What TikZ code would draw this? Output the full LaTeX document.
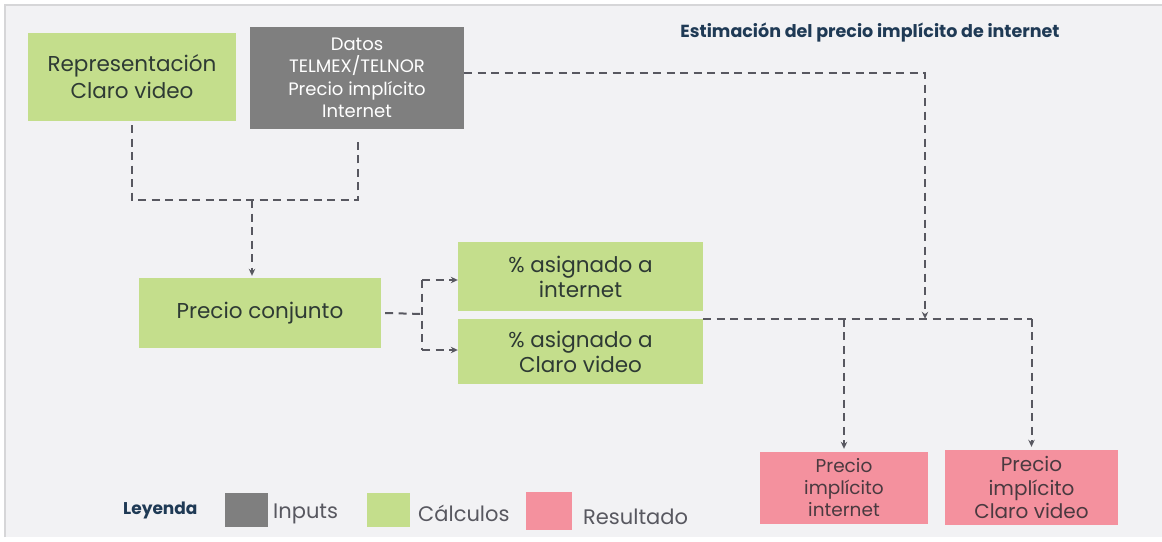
\documentclass[tikz,border=0pt]{standalone}
\usepackage{fontspec}
\setmainfont{Poppins}
\usetikzlibrary{arrows.meta,calc}
\definecolor{bgc}{HTML}{F2F2F4}
\definecolor{framec}{HTML}{D6D6D8}
\definecolor{calcc}{HTML}{C4DE8C}
\definecolor{inpc}{HTML}{7F7F7F}
\definecolor{resc}{HTML}{F4919E}
\definecolor{linec}{HTML}{585860}
\definecolor{txtc}{HTML}{2E3A34}
\definecolor{navy}{HTML}{1F3A55}
\definecolor{restxt}{HTML}{4A3A40}
\tikzset{
  box/.style={inner sep=0pt, align=center},
  calcbox/.style={box, fill=calcc, text=txtc},
  inbox/.style={box, fill=inpc, text=white},
  resbox/.style={box, fill=resc, text=restxt},
  conn/.style={draw=linec, line width=2pt, dash pattern=on 8pt off 5.5pt},
  arr/.style={conn, -{Stealth[length=7pt,width=6.5pt]}},
  legsq/.style={inner sep=0pt, minimum width=43pt, minimum height=34pt},
  legtxt/.style={anchor=west, text=linec, inner sep=0pt, font=\fontsize{21}{24}\selectfont}
}
\begin{document}
\begin{tikzpicture}[x=1pt,y=-1pt]
\useasboundingbox (0,0) rectangle (1162,541);
\fill[white] (0,0) rectangle (1162,541);
\fill[bgc] (5,5) rectangle (1162,537);
\draw[framec, line width=1.5pt] (5,537) -- (5,5) -- (1162,5);

% title
\node[text=navy, inner sep=0pt, font=\bfseries\fontsize{17.5}{20}\selectfont] (title) at (870,33) {Estimación del precio implícito de internet};

% nodes
\node[calcbox, minimum width=208pt, minimum height=88pt, font=\fontsize{21.5}{27}\selectfont] (rep) at (132,77) {Representación\\Claro video};
\node[inbox, minimum width=214pt, minimum height=102pt, font=\fontsize{18}{22.5}\selectfont] (datos) at (357,78) {Datos\\TELMEX/TELNOR\\Precio implícito\\Internet};
\node[calcbox, minimum width=242pt, minimum height=70pt, font=\fontsize{21.5}{24}\selectfont] (pc) at (260,313) {Precio conjunto};
\node[calcbox, minimum width=245pt, minimum height=69pt, font=\fontsize{21.5}{25}\selectfont] (pai) at (580.5,276.5) {\% asignado a\\internet};
\node[calcbox, minimum width=245pt, minimum height=65pt, font=\fontsize{21.5}{25}\selectfont] (pac) at (580.5,351.5) {\% asignado a\\Claro video};
\node[resbox, minimum width=168pt, minimum height=72pt, font=\fontsize{18.5}{22}\selectfont] (rpi) at (844,488) {Precio\\implícito\\internet};
\node[resbox, minimum width=173pt, minimum height=75pt, font=\fontsize{20}{23.5}\selectfont] (rpc) at (1031.5,487.5) {Precio\\implícito\\Claro video};

% junction coordinates
\coordinate (jrow) at (252,200);
\coordinate (fork) at (422,314);
\coordinate (dcol) at (925,73);

% connectors: inputs to Precio conjunto
\draw[conn] ([yshift=-4pt]rep.south) -- (rep.south |- jrow) -- ([xshift=1pt]datos.south |- jrow) -- ([xshift=1pt,yshift=-8pt]datos.south);
\draw[arr, shorten >=2pt] (jrow) -- (jrow |- pc.north);

% Precio conjunto to percentages
\draw[conn] ([xshift=4pt]pc.east) -- (fork);
\draw[conn] (fork |- 0,280) -- (fork |- 0,350);
\draw[arr] (fork |- 0,280) -- (pai.west |- 0,280);
\draw[arr] (fork |- 0,350) -- (pac.west |- 0,350);

% Datos to result line
\draw[arr] ($(datos.east)+(0,-5)$) -- (dcol) -- (dcol |- pac.north east);

% percentages to results
\draw[conn] (pac.north east) -- (rpc.north |- pac.north east);
\draw[arr, shorten >=3pt] (rpi.north |- pac.north east) -- (rpi.north);
\draw[arr, shorten >=3pt] (rpc.north |- pac.north east) -- (rpc.north);

% legend
\node[anchor=west, text=navy, inner sep=0pt, font=\bfseries\fontsize{17}{19}\selectfont] (leg) at (123,510) {Leyenda};
\node[legsq, fill=inpc] (lin) at (246,510) {};
\node[legtxt] (tin) at (273,514) {Inputs};
\node[legsq, fill=calcc] (lca) at (388.5,510) {};
\node[legtxt] (tca) at (418,513) {Cálculos};
\node[legsq, fill=resc, minimum width=46pt, minimum height=38pt] (lre) at (549,511) {};
\node[legtxt] (tre) at (583,517) {Resultado};
\end{tikzpicture}
\end{document}
